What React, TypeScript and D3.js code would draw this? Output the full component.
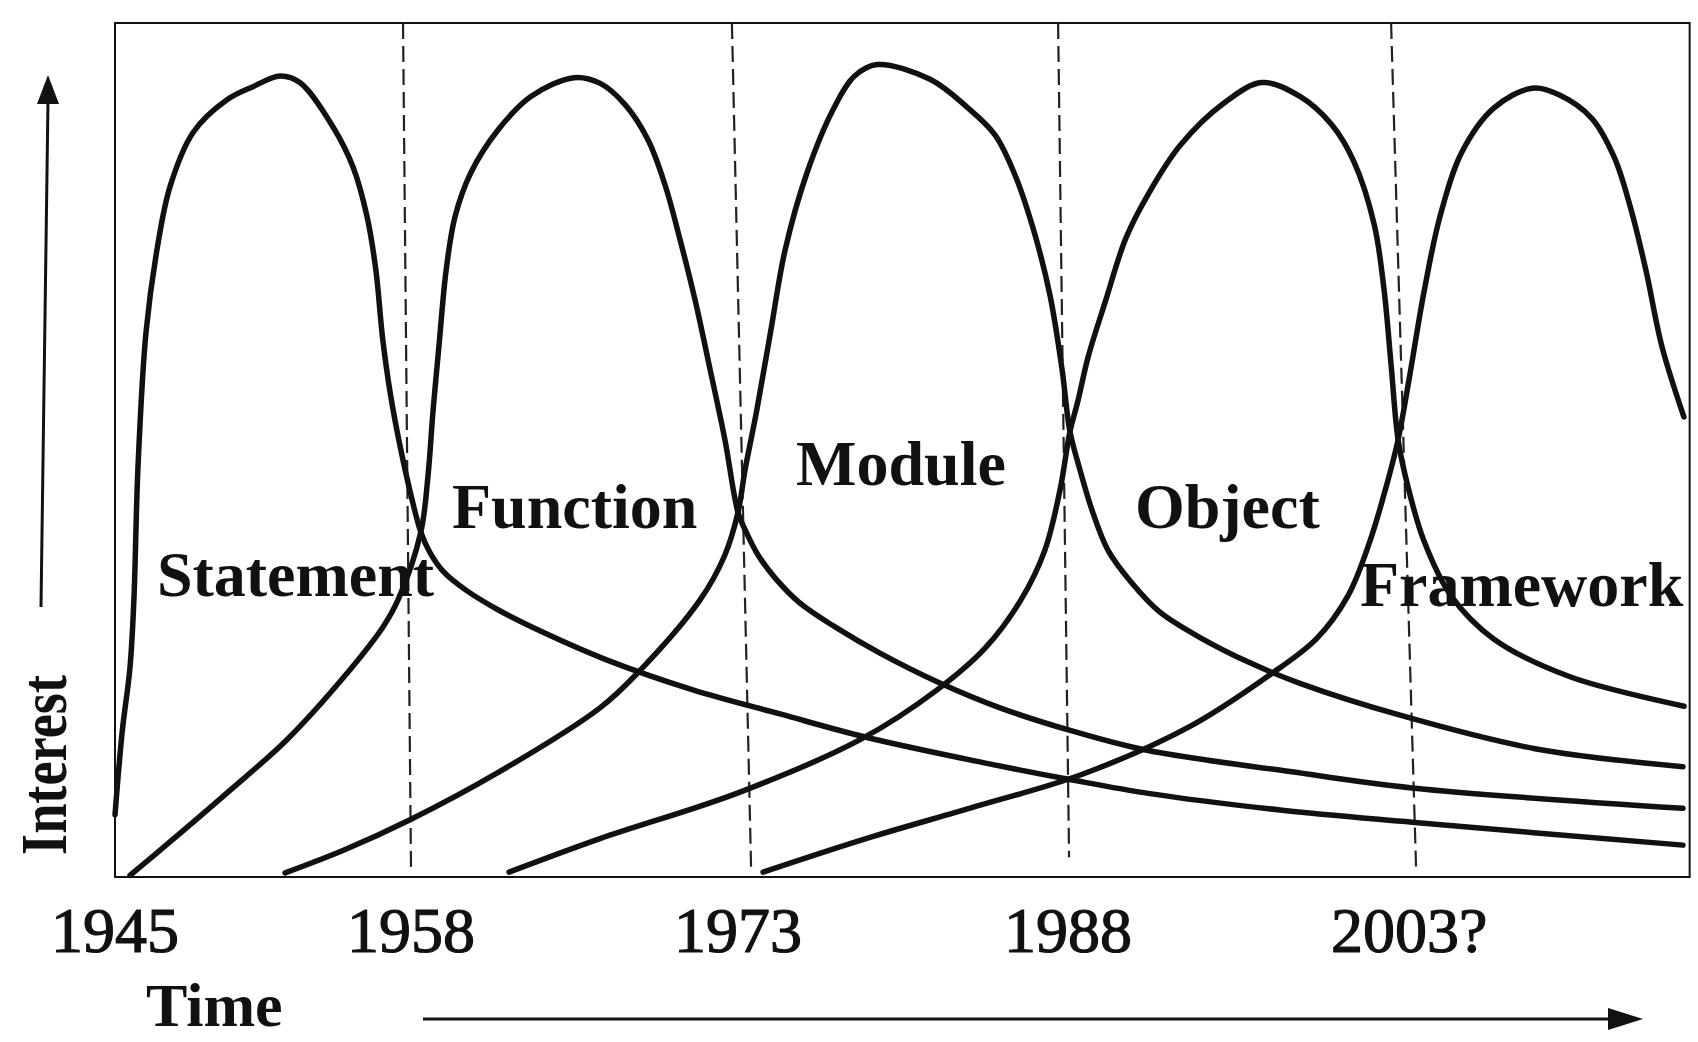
import React from 'react';
import * as d3 from 'd3';

// era boundaries and tick labels
const tickYears = [1945, 1958, 1973, 1988, 2003];
const tickLabels = ['1945', '1958', '1973', '1988', '2003?'];
const boundaryYears = [1958, 1973, 1988, 2003];
const boundaryTopYears = [1957.65, 1972.72, 1987.55, 2002.82];
const boundaryBottomYears = [1958.0, 1973.6, 1988.05, 2003.95];
const boundaryBottomInterest = [1.2, 0.5, 2.4, 1.2];

// each paradigm: [year, interest]
const statement: [number, number][] = [
  [1945.0, 7.6], [1945.31, 17.6], [1945.66, 25.7], [1945.83, 33.9], [1946.01, 50.2],
  [1946.36, 66.6], [1946.84, 76.7], [1947.42, 84.5], [1948.43, 91.1], [1949.92, 95.1],
  [1951.06, 96.7], [1952.25, 98.0], [1953.12, 97.2], [1954.57, 91.8], [1955.45, 86.9],
  [1956.07, 80.8], [1956.46, 74.2], [1956.75, 66.0], [1957.1, 59.0], [1957.5, 53.0],
  [1957.95, 47.3], [1958.45, 42.2], [1958.87, 39.7], [1959.51, 37.3], [1960.52, 35.1],
  [1961.99, 32.7], [1964.01, 30.0], [1966.94, 26.6], [1970.93, 22.9], [1974.91, 19.95],
  [1978.82, 17.1], [1984.14, 14.0], [1988.14, 11.9], [1991.76, 10.2], [1997.72, 8.2],
  [2003.77, 6.7], [2016.0, 3.9],
];
const functionEra: [number, number][] = [
  [1945.66, 0.2], [1947.5, 4.5], [1950.05, 10.6], [1952.55, 16.8], [1955.06, 24.5],
  [1956.77, 30.6], [1957.43, 33.9], [1958.45, 42.2], [1958.78, 49.1], [1959.01, 57.0],
  [1959.28, 64.9], [1959.61, 74.2], [1960.02, 80.8], [1960.75, 86.2], [1961.99, 91.4],
  [1963.5, 95.5], [1965.48, 97.8], [1966.68, 97.1], [1967.82, 94.5], [1968.87, 90.2],
  [1969.65, 84.7], [1970.34, 78.0], [1971.03, 70.6], [1971.72, 62.1], [1972.4, 53.5],
  [1973.0, 44.6], [1973.32, 42.5], [1973.91, 39.4], [1974.68, 36.6], [1975.82, 33.5],
  [1977.41, 30.6], [1979.45, 27.4], [1982.05, 23.9], [1984.91, 20.7], [1988.14, 17.9],
  [1991.62, 15.5], [1998.18, 12.9], [2003.77, 10.9], [2016.0, 8.4],
];
const moduleEra: [number, number][] = [
  [1952.47, 0.5], [1955.06, 3.3], [1957.96, 7.0], [1961.94, 12.7], [1966.67, 20.7],
  [1968.41, 25.0], [1971.26, 33.9], [1972.4, 39.4], [1973.0, 44.6], [1973.32, 49.8],
  [1973.86, 57.2], [1974.5, 67.0], [1975.14, 76.7], [1976.14, 86.2], [1977.36, 94.1],
  [1978.3, 98.0], [1979.32, 99.4], [1981.73, 97.6], [1983.41, 94.2], [1984.68, 90.8],
  [1985.59, 85.9], [1986.41, 79.4], [1987.18, 71.2], [1987.73, 62.1], [1988.09, 54.5],
  [1988.55, 49.8], [1989.1, 44.9], [1989.83, 40.0], [1990.89, 36.1], [1992.22, 32.4],
  [1994.06, 29.3], [1996.35, 26.2], [1998.64, 23.7], [2003.23, 19.8], [2009.32, 15.7],
  [2016.0, 13.5],
];
const objectEra: [number, number][] = [
  [1962.5, 0.6], [1966.67, 4.7], [1973.0, 10.3], [1978.55, 16.8], [1982.05, 22.9],
  [1984.23, 28.0], [1985.86, 33.9], [1986.95, 40.0], [1987.64, 47.4], [1988.09, 54.5],
  [1988.46, 58.3], [1988.92, 63.6], [1989.7, 70.3], [1990.66, 78.2], [1991.67, 83.5],
  [1993.14, 89.5], [1995.16, 94.7], [1996.9, 97.2], [1998.64, 95.5], [2000.11, 92.0],
  [2001.12, 87.5], [2002.05, 79.8], [2002.5, 71.8], [2002.82, 62.7], [2003.14, 53.5],
  [2003.59, 47.7], [2004.31, 41.1], [2005.53, 34.4], [2007.47, 29.1], [2010.9, 24.5],
  [2016.05, 20.9],
];
const frameworkEra: [number, number][] = [
  [1974.14, 0.6], [1978.82, 4.7], [1983.77, 8.6], [1988.69, 12.6], [1993.64, 18.5],
  [1997.13, 24.5], [1999.38, 29.1], [2000.84, 34.4], [2001.85, 41.1], [2002.59, 47.7],
  [2003.14, 53.5], [2003.63, 60.8], [2004.31, 71.6], [2005.03, 80.8], [2006.02, 88.7],
  [2007.47, 94.1], [2009.19, 96.5], [2010.4, 95.7], [2011.89, 92.8], [2012.89, 88.1],
  [2013.61, 82.1], [2014.33, 74.2], [2015.05, 64.9], [2016.04, 56.3],
];

const seriesNames = ['Statement', 'Function', 'Module', 'Object', 'Framework'];
const seriesData = [statement, functionEra, moduleEra, objectEra, frameworkEra];
// label anchor (year, interest) for each name
const labelYears = [1946.84, 1959.88, 1975.64, 1991.07, 2001.39];
const labelInterest = [34.4, 42.7, 48.0, 42.7, 33.2];

const W = 1698;
const H = 1042;
const serif = '"Liberation Serif", "Times New Roman", serif';
const ink = '#111';

export default function App() {
  const x = d3.scaleLinear()
    .domain([1945, 1958, 1973, 1988, 2003, 2016])
    .range([115, 411, 738, 1068, 1395, 1683]);
  const y = d3.scaleLinear().domain([0, 100]).range([877, 59.7]);

  const line = d3.line<[number, number]>()
    .x(d => x(d[0]))
    .y(d => y(d[1]))
    .curve(d3.curveCatmullRom.alpha(0.5));

  const left = x(1945);
  const right = x(2016.3);
  const top = y(104.5);
  const bottom = y(0);

  return (
    <svg width={W} height={H} style={{ position: 'absolute', left: 0, top: 0, background: '#fff' }}>
      {/* frame */}
      <path
        d={`M${left},${top} L${right},${top} L${right},${bottom} L${left},${bottom} Z`}
        fill="none" stroke={ink} strokeWidth={2} />

      {/* era boundaries */}
      {boundaryYears.map((yr, i) => (
        <line key={yr}
          x1={x(boundaryTopYears[i])} y1={top}
          x2={x(boundaryBottomYears[i])} y2={y(boundaryBottomInterest[i])}
          stroke="#222" strokeWidth={2.2} strokeDasharray="16 7" />
      ))}

      {/* paradigm curves */}
      {seriesData.map((d, i) => (
        <path key={seriesNames[i]} d={line(d) || ''} fill="none" stroke={ink}
          strokeWidth={5.5} strokeLinecap="round" strokeLinejoin="round" />
      ))}

      {/* paradigm labels */}
      {seriesNames.map((n, i) => (
        <text key={n} x={x(labelYears[i])} y={y(labelInterest[i])}
          fontFamily={serif} fontWeight="bold" fontSize={64} fill={ink}>{n}</text>
      ))}

      {/* year labels */}
      {tickYears.map((yr, i) => (
        <text key={yr} x={x(yr) - 64} y={952} fontFamily={serif} fontSize={64}
          fill={ink} stroke={ink} strokeWidth={1.2}>{tickLabels[i]}</text>
      ))}

      {/* axis titles */}
      <text x={146} y={1026} fontFamily={serif} fontWeight="bold" fontSize={62} fill={ink}>Time</text>
      <text transform="translate(66,855) rotate(-90)" fontFamily={serif} fontWeight="bold"
        fontSize={66} fill={ink} textLength={180} lengthAdjust="spacingAndGlyphs">Interest</text>

      {/* arrows */}
      <line x1={41} y1={607} x2={48} y2={100} stroke={ink} strokeWidth={3} />
      <path d="M48,75 L37,104 L59,104 Z" fill={ink} />
      <line x1={423} y1={1019} x2={1615} y2={1019} stroke={ink} strokeWidth={3} />
      <path d="M1643,1019 L1608,1008 L1608,1030 Z" fill={ink} />
    </svg>
  );
}
